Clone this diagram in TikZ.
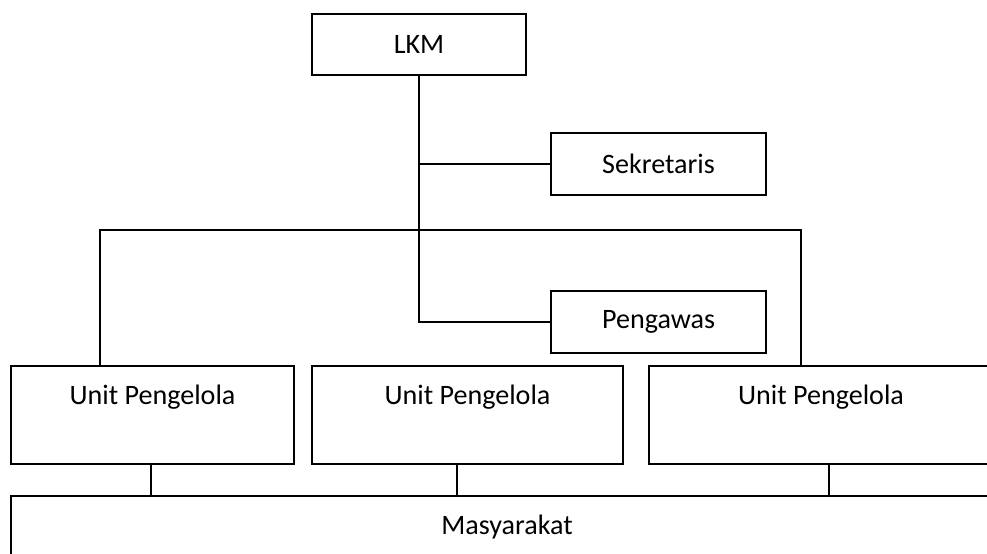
\documentclass[tikz,border=0pt]{standalone}
\usepackage{fontspec}
\setmainfont{Carlito}
\usepackage{tikz}

\begin{document}
\begin{tikzpicture}[x=0.02cm, y=-0.02cm, line width=0.8pt,
    box/.style={draw, rectangle, font=\fontsize{16}{19}\selectfont},
    unitbox/.style={box, minimum height=1.96cm,
        label={[font=\fontsize{16}{19}\selectfont, anchor=north, yshift=-0.27cm]north:Unit Pengelola}}]
    \clip (0,0) rectangle (987,554);
    \node[box, minimum width=4.28cm, minimum height=1.22cm] (lkm) at (419,44.5) {LKM};
    \node[box, minimum width=4.3cm, minimum height=1.24cm] (sekretaris) at (658.5,164) {Sekretaris};
    \node[box, minimum width=4.3cm, minimum height=1.24cm] (pengawas) at (658.5,322) {Pengawas};
    \node[unitbox, minimum width=5.66cm] (upl) at (152.5,415) {};
    \node[unitbox, minimum width=6.22cm] (upk) at (467.5,415) {};
    \node[unitbox, minimum width=6.88cm] (ups) at (821,415) {};
    \node[box, minimum width=19.84cm, minimum height=1.24cm] (masy) at (507,527) {Masyarakat};
    \coordinate (barl) at (100,230);
    \coordinate (barr) at (801,230);
    \draw (lkm.south) |- (pengawas.west);
    \draw (lkm.south |- sekretaris.west) -- (sekretaris.west);
    \draw (barl |- upl.north) -- (barl) -- (barr) -- (barr |- ups.north);
    \foreach \u/\x in {upl/151, upk/457, ups/829}
        \draw (\x,0 |- \u.south) -- (\x,0 |- masy.north);
\end{tikzpicture}
\end{document}
